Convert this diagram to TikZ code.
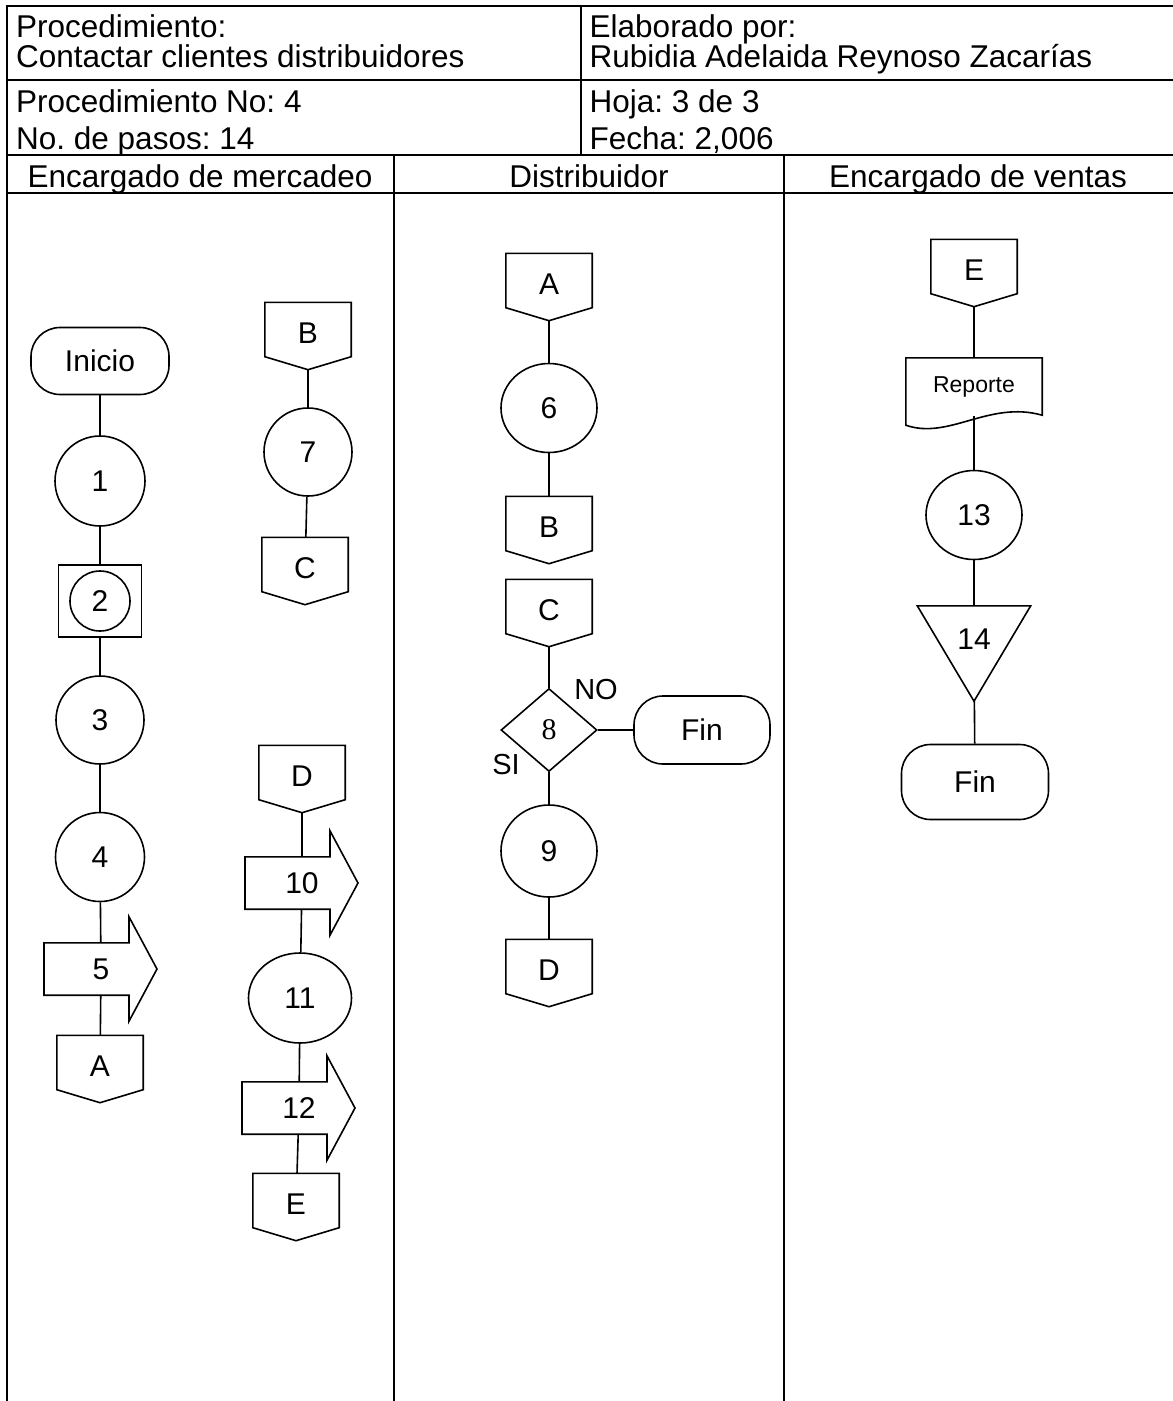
\documentclass[tikz,border=0pt]{standalone}
\usepackage{fontspec}
\setmainfont{Liberation Sans}
\newfontfamily\romanfont{Liberation Serif}
\usetikzlibrary{shapes.geometric}
\newcommand{\bigfont}{\fontsize{31.5}{36}\selectfont}
\newcommand{\shapefont}{\fontsize{30}{34}\selectfont}
\frenchspacing

\begin{document}
\begin{tikzpicture}[x=1pt,y=-1pt,
    table/.style={line width=2.7pt},
    hdr/.style={anchor=base west,inner sep=0pt,font=\bigfont},
    lanehdr/.style={anchor=base,inner sep=0pt,font=\bigfont},
    shapeline/.style={line width=1.6pt},
    terminal/.style={draw,shapeline,rectangle,rounded corners=29pt,inner sep=0pt,font=\shapefont},
    oper/.style={draw,shapeline,circle,inner sep=0pt,font=\shapefont},
    operell/.style={draw,shapeline,ellipse,inner sep=0pt,font=\shapefont},
    offpage/.style={minimum width=86pt,minimum height=67pt,inner sep=0pt,text height=22pt,text depth=8pt,font=\shapefont},
    transp/.style={minimum width=20pt,minimum height=52pt,inner sep=0pt,font=\shapefont},
    decision/.style={draw,shapeline,diamond,minimum width=96pt,minimum height=83pt,inner sep=0pt,font=\romanfont\fontsize{30}{34}\selectfont},
    yesno/.style={inner sep=0pt,font=\fontsize{29}{33}\selectfont}]
    \useasboundingbox (0,0) rectangle (1173,1401);

    \draw[table] (7,1401) -- (7,6) -- (1173,6);
    \draw[table] (581,6) -- (581,155);
    \foreach \y in {80,155,193} {
        \draw[table] (7,\y) -- (1173,\y);
    }
    \foreach \x in {394,784} {
        \draw[table] (\x,155) -- (\x,1401);
    }

    \node[hdr] (proc) at (16,37) {Procedimiento:};
    \node[hdr] (procname) at (16,67) {Contactar clientes distribuidores};
    \node[hdr] (elab) at (589.5,37) {Elaborado por:};
    \node[hdr] (author) at (589.5,67) {Rubidia Adelaida Reynoso Zacarías};
    \node[hdr] (procno) at (16,112) {Procedimiento No: 4};
    \node[hdr] (pasos) at (16,149) {No. de pasos: 14};
    \node[hdr] (hoja) at (589.5,112) {Hoja: 3 de 3};
    \node[hdr] (fecha) at (589.5,149) {Fecha: 2,006};
    \node[lanehdr] (lanemerc) at (200,187) {Encargado de mercadeo};
    \node[lanehdr] (lanedist) at (589,187) {Distribuidor};
    \node[lanehdr] (laneventas) at (978,187) {Encargado de ventas};

    % encargado de mercadeo
    \node[terminal,minimum width=138pt,minimum height=67pt] (inicio) at (100,361) {Inicio};
    \node[oper,minimum size=90pt] (c1) at (100,481) {1};
    \node[draw,shapeline,minimum width=83pt,minimum height=72pt,inner sep=0pt,font=\shapefont] (box2) at (100,601) {2};
    \draw[shapeline] (box2.center) circle (30);
    \node[oper,minimum size=88pt] (c3) at (100,720) {3};
    \node[oper,minimum size=89pt] (c4) at (100,857) {4};
    \node[transp] (ar5) at (101,969) {5};
    \node[offpage] (offA1) at (100,1069) {A};

    \node[offpage] (offB1) at (308,336) {B};
    \node[oper,minimum size=88pt] (c7) at (308,452) {7};
    \node[offpage] (offC1) at (305,571) {C};
    \node[offpage] (offD1) at (302,779) {D};
    \node[transp] (ar10) at (302,883) {10};
    \node[operell,minimum width=103pt,minimum height=90pt] (e11) at (300,998) {11};
    \node[transp] (ar12) at (299,1108) {12};
    \node[offpage] (offE1) at (296,1207) {E};

    % distribuidor
    \node[offpage] (offA2) at (549,287) {A};
    \node[operell,minimum width=96pt,minimum height=89pt] (c6) at (549,408) {6};
    \node[offpage] (offB2) at (549,530) {B};
    \node[offpage] (offC2) at (549,613) {C};
    \node[decision] (d8) at (549,730) {8};
    \node[terminal,minimum width=136pt,minimum height=68pt] (finD) at (702,730) {Fin};
    \node[yesno] (lblno) at (596,690) {NO};
    \node[yesno] (lblsi) at (506,765) {SI};
    \node[operell,minimum width=96pt,minimum height=92pt] (c9) at (549,851) {9};
    \node[offpage] (offD2) at (549,973) {D};

    % encargado de ventas
    \node[offpage] (offE3) at (974,273) {E};
    \node[minimum width=136pt,minimum height=58pt,inner sep=0pt,font=\fontsize{23}{27}\selectfont] (doc) at (974,387) {Reporte};
    \node[operell,minimum width=96pt,minimum height=89pt] (c13) at (974,515) {13};
    \node[minimum width=113pt,minimum height=95pt,inner sep=0pt,text height=22pt,text depth=30pt,font=\shapefont] (tri14) at (974,653.5) {14};
    \node[terminal,minimum width=147pt,minimum height=75pt] (finV) at (975,782) {Fin};

    \foreach \n in {offA1,offB1,offC1,offD1,offE1,offA2,offB2,offC2,offD2,offE3} {
        \draw[shapeline] (\n.north west) -- (\n.north east) -- ([yshift=13pt]\n.south east) -- (\n.south) -- ([yshift=13pt]\n.south west) -- cycle;
    }
    \foreach \n in {ar5,ar10,ar12} {
        \draw[shapeline] ([xshift=-57pt]\n.north) -- ([xshift=28pt]\n.north) -- ([xshift=28pt,yshift=26pt]\n.north) -- ([xshift=56pt]\n.center) -- ([xshift=28pt,yshift=-26pt]\n.south) -- ([xshift=28pt]\n.south) -- ([xshift=-57pt]\n.south) -- cycle;
    }
    \draw[shapeline] (doc.north west) -- (doc.north east) -- ([yshift=1pt]doc.south east) .. controls ([xshift=15pt,yshift=16pt]doc.south) and ([xshift=-25pt,yshift=-24pt]doc.south) .. ([yshift=-9pt]doc.south west) -- cycle;
    \draw[shapeline] (tri14.north west) -- (tri14.north east) -- (tri14.south) -- cycle;

    \foreach \a/\b in {inicio/c1,c1/box2,box2/c3,c3/c4,c4/ar5,ar5/offA1,offB1/c7,c7/offC1,offD1/ar10,ar10/e11,e11/ar12,ar12/offE1,offA2/c6,c6/offB2,offC2/d8,d8/finD,d8/c9,c9/offD2,offE3/doc,doc/c13,c13/tri14,tri14/finV} {
        \draw[shapeline] (\a) -- (\b);
    }
\end{tikzpicture}
\end{document}
